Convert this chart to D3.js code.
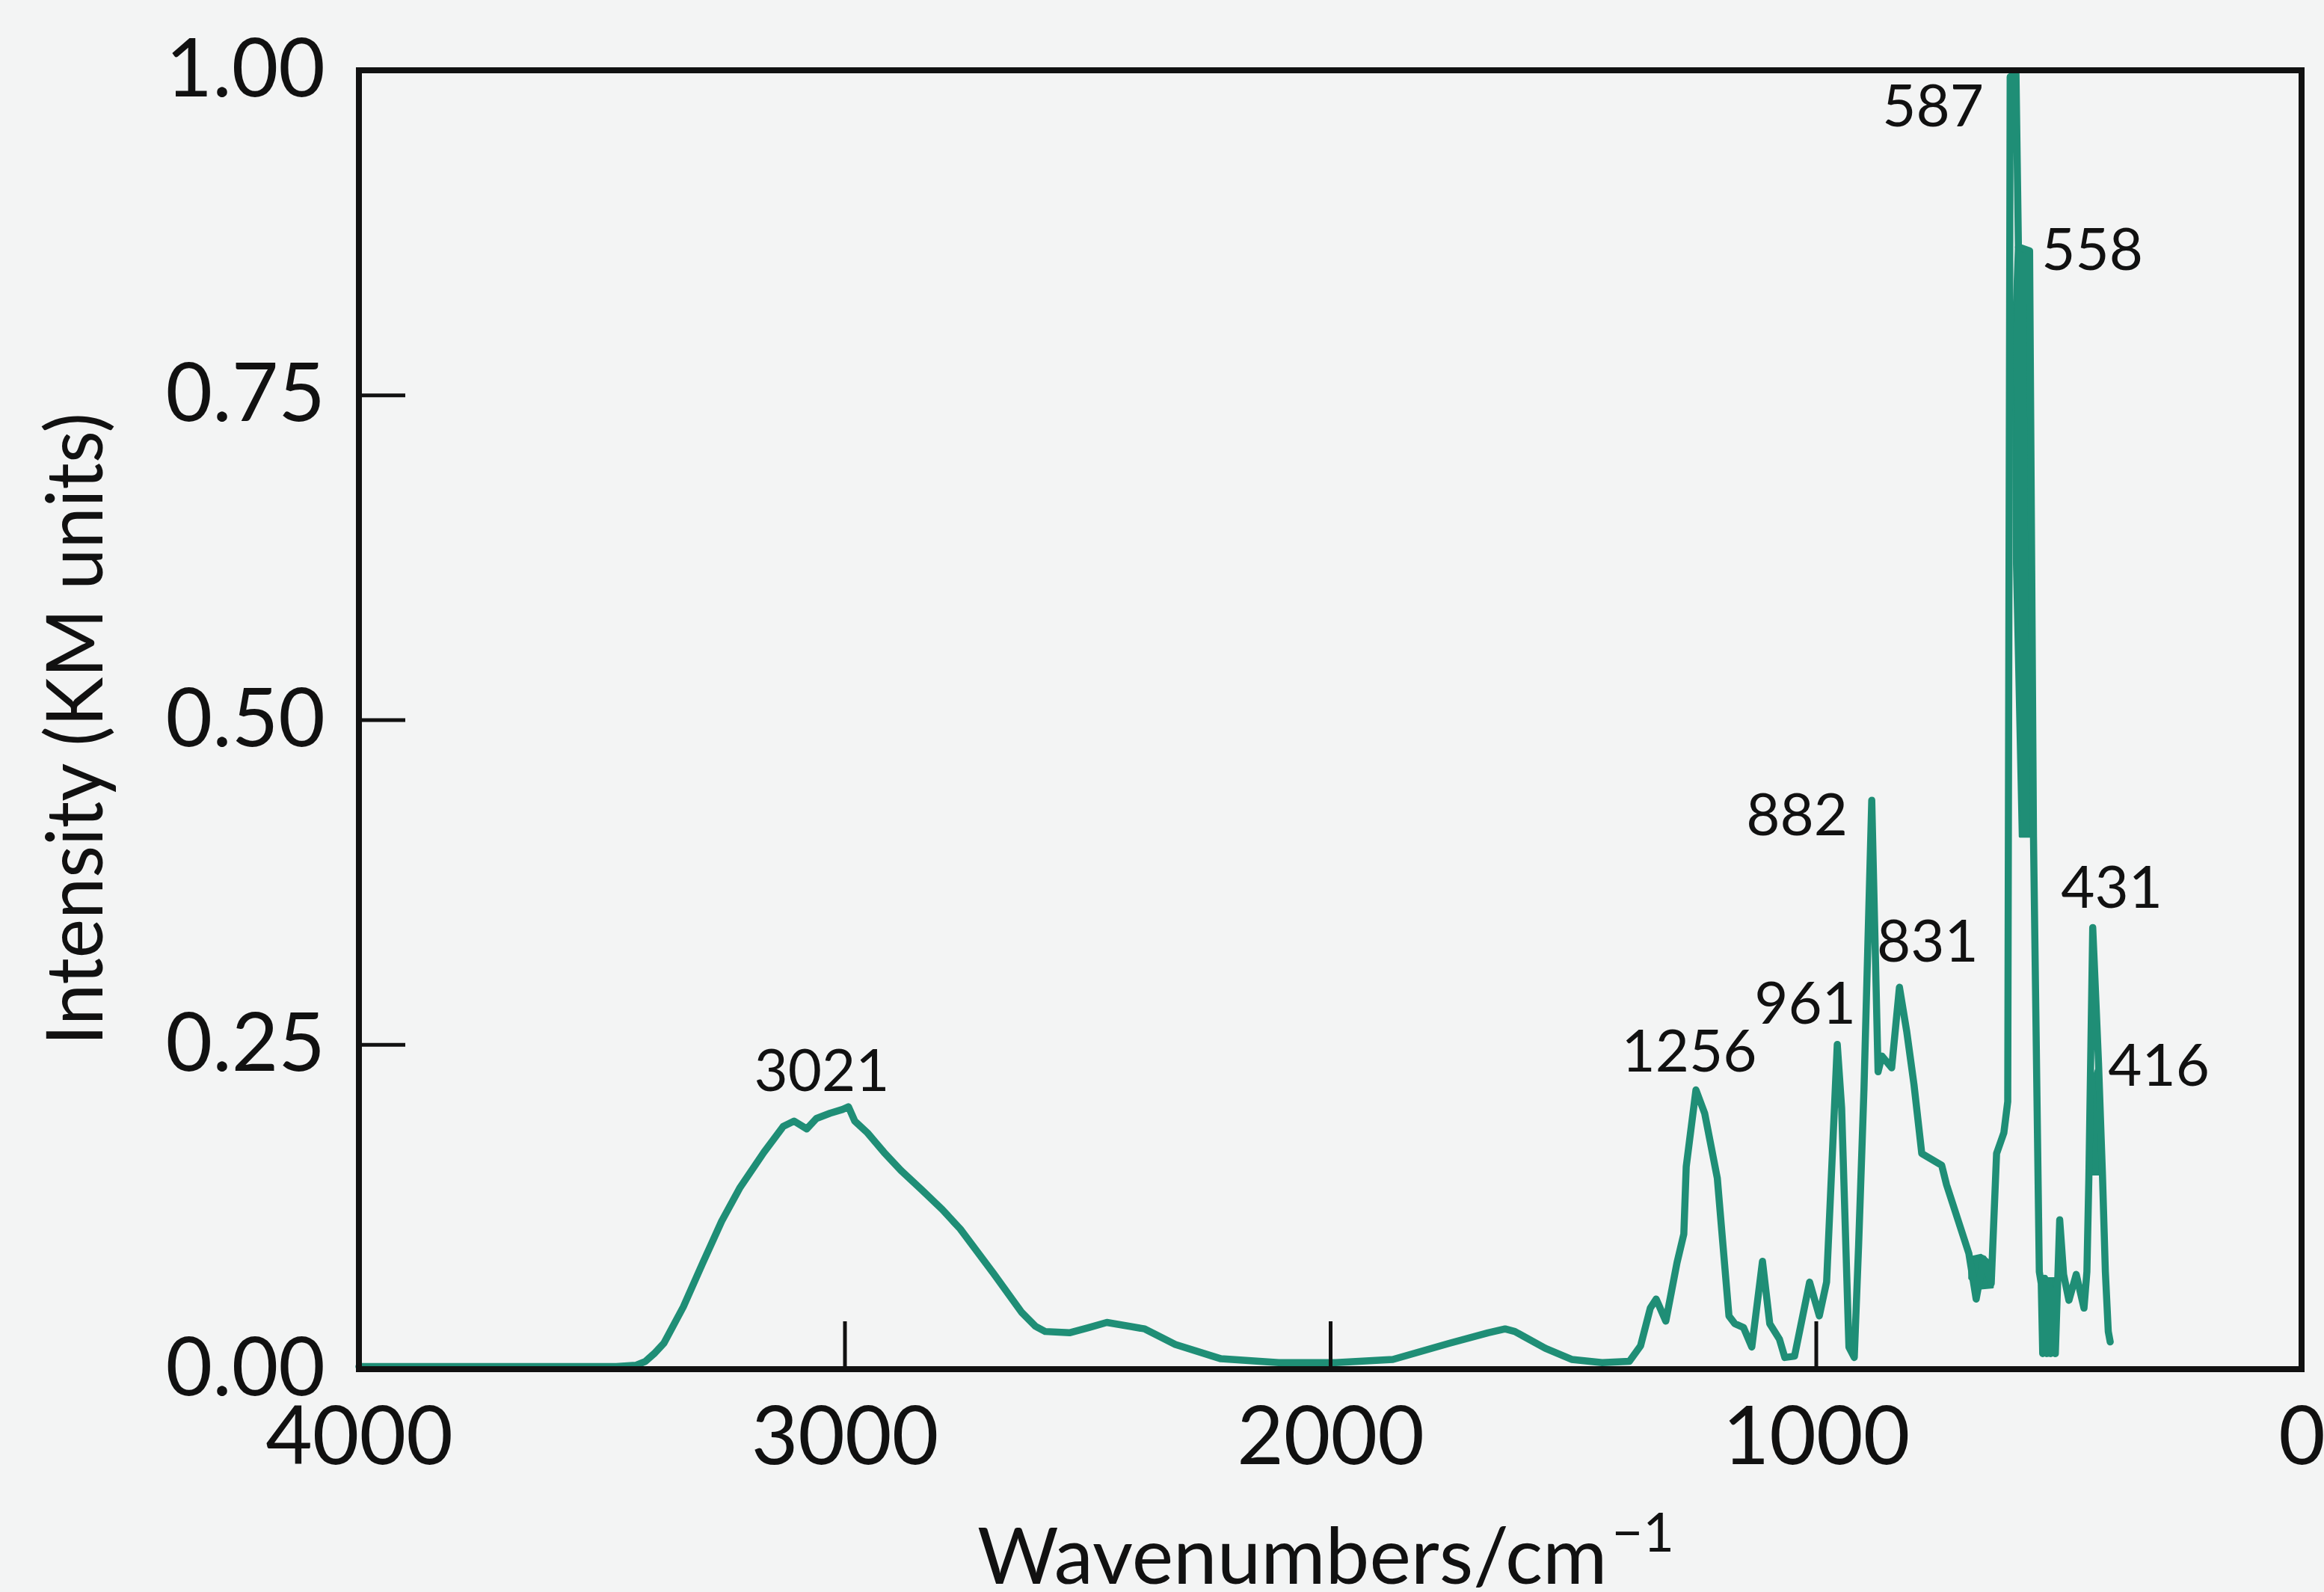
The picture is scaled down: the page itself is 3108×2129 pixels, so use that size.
<!DOCTYPE html>
<html>
<head>
<meta charset="utf-8">
<script src="https://cdn.jsdelivr.net/npm/d3@7"></script>
<style>
    body { margin: 0; background: #f3f4f4; }
    svg { display: block; }
</style>
</head>
<body>
<script>

// spectrum (cm-1 / KM units)
var wavenumber = [
    4000, 3661, 3470, 3430, 3410, 3392, 3372, 3332, 3293, 3253,
    3215, 3166, 3126, 3104, 3078, 3058, 3030, 3004, 2992, 2979,
    2953, 2919, 2884, 2841, 2799, 2762, 2694, 2636, 2607, 2587,
    2537, 2497, 2460, 2382, 2319, 2225, 2106, 1989, 1871, 1754,
    1675, 1640, 1620, 1557, 1503, 1440, 1384, 1361, 1341, 1329,
    1309, 1286, 1272, 1267, 1247, 1229, 1203, 1179, 1167, 1149,
    1132, 1110, 1095, 1075, 1064, 1044, 1013, 993, 978, 956,
    947, 932, 921, 912, 901, 885, 872, 864, 844, 828,
    813, 798, 782, 741, 731, 685, 670, 655, 639, 628,
    613, 605, 600, 588, 583, 560, 552, 540, 536, 533,
    529, 525, 521, 517, 513, 507, 498, 490, 479, 464,
    448, 442, 438, 430, 424, 418, 410, 404, 398, 394
];
var intensity = [
    0.002, 0.002, 0.002, 0.003, 0.006, 0.012, 0.020, 0.048, 0.081, 0.114,
    0.140, 0.167, 0.187, 0.191, 0.185, 0.193, 0.197, 0.200, 0.202, 0.191,
    0.182, 0.167, 0.153, 0.138, 0.123, 0.108, 0.074, 0.044, 0.033, 0.029,
    0.028, 0.032, 0.036, 0.031, 0.019, 0.008, 0.005, 0.005, 0.0075, 0.020,
    0.028, 0.031, 0.029, 0.016, 0.0075, 0.005, 0.006, 0.018, 0.047, 0.054,
    0.037, 0.082, 0.104, 0.156, 0.215, 0.197, 0.147, 0.041, 0.035, 0.032,
    0.017, 0.083, 0.035, 0.023, 0.009, 0.010, 0.067, 0.041, 0.067, 0.250,
    0.201, 0.017, 0.009, 0.096, 0.216, 0.438, 0.229, 0.241, 0.232, 0.294,
    0.260, 0.219, 0.166, 0.157, 0.142, 0.089, 0.054, 0.085, 0.066, 0.166,
    0.182, 0.206, 0.995, 0.997, 0.864, 0.861, 0.410, 0.075, 0.066, 0.012,
    0.070, 0.012, 0.068, 0.012, 0.060, 0.012, 0.115, 0.073, 0.053, 0.073,
    0.047, 0.075, 0.147, 0.340, 0.288, 0.235, 0.150, 0.075, 0.029, 0.021
];

// regions where the trace is so dense it prints as a solid patch
var bandWn = [
    [588, 560, 552, 580, 592, 594],
    [536, 508, 508, 534],
    [684, 660, 638, 636, 665, 684],
    [438, 418, 410, 438]
];
var bandInt = [
    [0.864, 0.861, 0.410, 0.410, 0.620, 0.800],
    [0.070, 0.070, 0.012, 0.012],
    [0.086, 0.088, 0.082, 0.063, 0.062, 0.070],
    [0.215, 0.236, 0.150, 0.150]
];

// peak annotations: text and where it sits (data units)
var peakText = ['3021', '1256', '961', '882', '831', '587', '558', '431', '416'];
var peakWn   = [3047, 1261, 1022, 1039, 770, 759, 431, 391, 294];
var peakInt  = [0.214, 0.229, 0.266, 0.411, 0.314, 0.957, 0.846, 0.355, 0.218];

var xTicks = [4000, 3000, 2000, 1000, 0];
var yTicks = [0, 0.25, 0.5, 0.75, 1.0];

var width = 3108,
    height = 2129,
    margin = {top: 94, right: 30, bottom: 298, left: 480},
    font = 'Lato, "Open Sans", sans-serif',
    lineColor = '#1f8e76';

var svg = d3.select('body')
    .append('svg')
    .attr('width', width)
    .attr('height', height);

svg.append('rect')
    .attr('width', width)
    .attr('height', height)
    .attr('fill', '#f3f4f4');

var x = d3.scaleLinear()
    .domain([4000, 0])
    .range([margin.left, width - margin.right]);

var y = d3.scaleLinear()
    .domain([0, 1])
    .range([height - margin.bottom, margin.top]);

var line = d3.line()
    .x(function(d) { return x(d[0]); })
    .y(function(d) { return y(d[1]); });

// solid patches
svg.append('g')
    .selectAll('path')
    .data(bandWn.map(function(w, i) { return d3.zip(w, bandInt[i]); }))
    .enter()
    .append('path')
    .attr('d', function(d) { return line(d) + 'Z'; })
    .attr('fill', lineColor)
    .attr('stroke', lineColor)
    .attr('stroke-width', 3)
    .attr('stroke-linejoin', 'round');

// spectrum
svg.append('path')
    .datum(d3.zip(wavenumber, intensity))
    .attr('d', line)
    .attr('fill', 'none')
    .attr('stroke', lineColor)
    .attr('stroke-width', 9.5)
    .attr('stroke-linejoin', 'round')
    .attr('stroke-linecap', 'round');

// axes, ticks pointing inward
var yAxis = svg.append('g')
    .attr('transform', 'translate(' + margin.left + ',0)')
    .call(d3.axisLeft(y)
        .tickValues(yTicks)
        .tickFormat(d3.format('.2f'))
        .tickSize(-62)
        .tickPadding(45));

var xAxis = svg.append('g')
    .attr('transform', 'translate(0,' + (height - margin.bottom) + ')')
    .call(d3.axisBottom(x)
        .tickValues(xTicks)
        .tickFormat(d3.format('d'))
        .tickSize(-64)
        .tickPadding(50));

[xAxis, yAxis].forEach(function(g) {
    g.select('.domain').remove();
    g.selectAll('.tick line')
        .attr('stroke', '#111')
        .attr('stroke-width', 5);
    g.selectAll('.tick text')
        .attr('fill', '#111')
        .style('font-family', font)
        .style('font-size', '108px');
});

// frame on top of everything
svg.append('rect')
    .attr('x', x(4000))
    .attr('y', y(1))
    .attr('width', x(0) - x(4000))
    .attr('height', y(0) - y(1))
    .attr('fill', 'none')
    .attr('stroke', '#111')
    .attr('stroke-width', 8);

// peak labels
svg.append('g')
    .selectAll('text')
    .data(peakText)
    .enter()
    .append('text')
    .attr('x', function(d, i) { return x(peakWn[i]); })
    .attr('y', function(d, i) { return y(peakInt[i]); })
    .attr('text-anchor', 'middle')
    .attr('fill', '#111')
    .style('font-family', font)
    .style('font-size', '78px')
    .text(function(d) { return d; });

// axis titles
var xt = svg.append('text')
    .attr('x', (x(4000) + x(0)) / 2 - 6)
    .attr('y', 2118)
    .attr('text-anchor', 'middle')
    .attr('fill', '#111')
    .style('font-family', font)
    .style('font-size', '105px');

xt.append('tspan').text('Wavenumbers/cm');
xt.append('tspan')
    .attr('dy', -43)
    .attr('dx', 6)
    .style('font-size', '72px')
    .text('\u22121');

svg.append('text')
    .attr('transform', 'translate(137,975) rotate(-90)')
    .attr('text-anchor', 'middle')
    .attr('fill', '#111')
    .attr('textLength', 846)
    .attr('lengthAdjust', 'spacingAndGlyphs')
    .style('font-family', font)
    .style('font-size', '105px')
    .text('Intensity (KM units)');

</script>
</body>
</html>
